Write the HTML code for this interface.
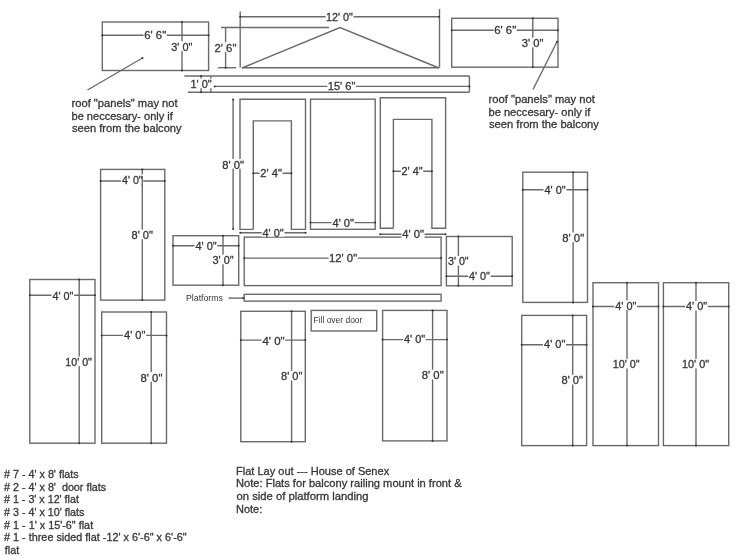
<!DOCTYPE html>
<html><head><meta charset="utf-8"><style>
html,body{margin:0;padding:0;background:#fff;}
body{width:738px;height:556px;overflow:hidden;}
svg{display:block;font-family:"Liberation Sans",sans-serif;will-change:transform;filter:blur(0.35px);}
text{fill:#363636;stroke:#363636;stroke-width:0.3px;white-space:pre;}
</style></head><body>
<svg width="738" height="556" viewBox="0 0 738 556">
<rect x="0" y="0" width="738" height="556" fill="#fff"/>
<rect x="102.3" y="22" width="106.30" height="48.50" stroke="#6a6a6a" stroke-width="1.4" fill="none"/>
<line x1="102.3" y1="35.2" x2="208.6" y2="35.2" stroke="#6a6a6a" stroke-width="1.4" fill="none"/>
<circle cx="102.3" cy="35.2" r="1.0" fill="#333"/>
<circle cx="208.6" cy="35.2" r="1.0" fill="#333"/>
<line x1="182" y1="22" x2="182" y2="70.5" stroke="#6a6a6a" stroke-width="1.4" fill="none"/>
<circle cx="182" cy="22" r="1.0" fill="#333"/>
<circle cx="182" cy="70.5" r="1.0" fill="#333"/>
<line x1="142.5" y1="58" x2="87.5" y2="90" stroke="#6a6a6a" stroke-width="1.4" fill="none"/>
<circle cx="142.5" cy="58" r="1.0" fill="#333"/>
<rect x="451.7" y="18.3" width="106.30" height="48.90" stroke="#6a6a6a" stroke-width="1.4" fill="none"/>
<line x1="451.7" y1="30.3" x2="558" y2="30.3" stroke="#6a6a6a" stroke-width="1.4" fill="none"/>
<circle cx="451.7" cy="30.3" r="1.0" fill="#333"/>
<circle cx="558" cy="30.3" r="1.0" fill="#333"/>
<line x1="532.8" y1="18.3" x2="532.8" y2="67.2" stroke="#6a6a6a" stroke-width="1.4" fill="none"/>
<circle cx="532.8" cy="18.3" r="1.0" fill="#333"/>
<circle cx="532.8" cy="67.2" r="1.0" fill="#333"/>
<line x1="557" y1="41.7" x2="533" y2="89.5" stroke="#6a6a6a" stroke-width="1.4" fill="none"/>
<circle cx="557" cy="41.7" r="1.0" fill="#333"/>
<line x1="240.2" y1="11.4" x2="240.2" y2="67.4" stroke="#6a6a6a" stroke-width="1.4" fill="none"/>
<line x1="439.5" y1="9" x2="439.5" y2="67.7" stroke="#6a6a6a" stroke-width="1.4" fill="none"/>
<line x1="240.2" y1="16.7" x2="439" y2="16.7" stroke="#6a6a6a" stroke-width="1.4" fill="none"/>
<circle cx="240.2" cy="16.7" r="1.0" fill="#333"/>
<circle cx="439" cy="16.7" r="1.0" fill="#333"/>
<line x1="221" y1="27.5" x2="329" y2="27.5" stroke="#6a6a6a" stroke-width="1.4" fill="none"/>
<line x1="225.6" y1="27.5" x2="225.6" y2="67.7" stroke="#6a6a6a" stroke-width="1.4" fill="none"/>
<line x1="218" y1="67.7" x2="236" y2="67.7" stroke="#6a6a6a" stroke-width="1.4" fill="none"/>
<circle cx="225.6" cy="67.7" r="1.0" fill="#333"/>
<polyline points="242,68 340,27.5 439,68" stroke="#6a6a6a" stroke-width="1.4" fill="none"/>
<line x1="242" y1="67.7" x2="439.2" y2="67.7" stroke="#6a6a6a" stroke-width="1.4" fill="none"/>
<line x1="184.3" y1="76" x2="469.4" y2="76" stroke="#6a6a6a" stroke-width="1.4" fill="none"/>
<line x1="188" y1="92.2" x2="469.4" y2="92.2" stroke="#6a6a6a" stroke-width="1.4" fill="none"/>
<line x1="210.9" y1="76" x2="210.9" y2="92.2" stroke="#6a6a6a" stroke-width="1.4" fill="none"/>
<line x1="469.4" y1="76" x2="469.4" y2="92.2" stroke="#6a6a6a" stroke-width="1.4" fill="none"/>
<line x1="201.1" y1="76" x2="201.1" y2="92.2" stroke="#6a6a6a" stroke-width="1.4" fill="none"/>
<circle cx="201.1" cy="76" r="1.0" fill="#333"/>
<circle cx="201.1" cy="92.2" r="1.0" fill="#333"/>
<line x1="214.7" y1="86.4" x2="469.4" y2="86.4" stroke="#6a6a6a" stroke-width="1.4" fill="none"/>
<circle cx="214.7" cy="86.4" r="1.0" fill="#333"/>
<circle cx="469.4" cy="86.4" r="1.0" fill="#333"/>
<line x1="233.1" y1="99.5" x2="233.1" y2="229.1" stroke="#6a6a6a" stroke-width="1.4" fill="none"/>
<circle cx="233.1" cy="99.5" r="1.0" fill="#333"/>
<circle cx="233.1" cy="229.1" r="1.0" fill="#333"/>
<polyline points="253.3,229.4 240,229.4 240,99.2 305.5,99.2 305.5,229.4 291.4,229.4 291.4,120.9 253.3,120.9 253.3,229.4" stroke="#6a6a6a" stroke-width="1.4" fill="none"/>
<line x1="253.3" y1="173.3" x2="291.4" y2="173.3" stroke="#6a6a6a" stroke-width="1.4" fill="none"/>
<circle cx="253.3" cy="173.3" r="1.0" fill="#333"/>
<circle cx="291.4" cy="173.3" r="1.0" fill="#333"/>
<line x1="240.3" y1="232.8" x2="305.6" y2="232.8" stroke="#6a6a6a" stroke-width="1.4" fill="none"/>
<circle cx="240.3" cy="232.8" r="1.0" fill="#333"/>
<circle cx="305.6" cy="232.8" r="1.0" fill="#333"/>
<rect x="310.5" y="99.2" width="64.70" height="130.10" stroke="#6a6a6a" stroke-width="1.4" fill="none"/>
<line x1="310.5" y1="222.6" x2="375.2" y2="222.6" stroke="#6a6a6a" stroke-width="1.4" fill="none"/>
<circle cx="310.5" cy="222.6" r="1.0" fill="#333"/>
<circle cx="375.2" cy="222.6" r="1.0" fill="#333"/>
<polyline points="393.4,228.2 380.3,228.2 380.3,97.7 445.6,97.7 445.6,228.2 431.9,228.2 431.9,119.4 393.4,119.4 393.4,228.2" stroke="#6a6a6a" stroke-width="1.4" fill="none"/>
<line x1="393.4" y1="171.3" x2="431.9" y2="171.3" stroke="#6a6a6a" stroke-width="1.4" fill="none"/>
<circle cx="393.4" cy="171.3" r="1.0" fill="#333"/>
<circle cx="431.9" cy="171.3" r="1.0" fill="#333"/>
<line x1="380.2" y1="234.2" x2="445.5" y2="234.2" stroke="#6a6a6a" stroke-width="1.4" fill="none"/>
<circle cx="380.2" cy="234.2" r="1.0" fill="#333"/>
<circle cx="445.5" cy="234.2" r="1.0" fill="#333"/>
<rect x="173" y="235.7" width="65.70" height="49.50" stroke="#6a6a6a" stroke-width="1.4" fill="none"/>
<line x1="173" y1="245.7" x2="238.7" y2="245.7" stroke="#6a6a6a" stroke-width="1.4" fill="none"/>
<circle cx="173" cy="245.7" r="1.0" fill="#333"/>
<circle cx="238.7" cy="245.7" r="1.0" fill="#333"/>
<line x1="223" y1="235.7" x2="223" y2="285.2" stroke="#6a6a6a" stroke-width="1.4" fill="none"/>
<circle cx="223" cy="235.7" r="1.0" fill="#333"/>
<circle cx="223" cy="285.2" r="1.0" fill="#333"/>
<rect x="244.2" y="237.1" width="196.90" height="48.50" stroke="#6a6a6a" stroke-width="1.4" fill="none"/>
<line x1="244.2" y1="258.1" x2="441.1" y2="258.1" stroke="#6a6a6a" stroke-width="1.4" fill="none"/>
<circle cx="244.2" cy="258.1" r="1.0" fill="#333"/>
<circle cx="441.1" cy="258.1" r="1.0" fill="#333"/>
<rect x="446.4" y="236.5" width="65.80" height="49.30" stroke="#6a6a6a" stroke-width="1.4" fill="none"/>
<line x1="458.4" y1="236.5" x2="458.4" y2="285.8" stroke="#6a6a6a" stroke-width="1.4" fill="none"/>
<circle cx="458.4" cy="236.5" r="1.0" fill="#333"/>
<circle cx="458.4" cy="285.8" r="1.0" fill="#333"/>
<line x1="446.4" y1="276.3" x2="512.2" y2="276.3" stroke="#6a6a6a" stroke-width="1.4" fill="none"/>
<circle cx="446.4" cy="276.3" r="1.0" fill="#333"/>
<circle cx="512.2" cy="276.3" r="1.0" fill="#333"/>
<rect x="244.2" y="294.3" width="196.90" height="6.80" stroke="#6a6a6a" stroke-width="1.4" fill="none"/>
<line x1="228.5" y1="298.1" x2="243.3" y2="298.1" stroke="#6a6a6a" stroke-width="1.4" fill="none"/>
<circle cx="243.3" cy="298.1" r="1.0" fill="#333"/>
<rect x="311.2" y="310.4" width="65.50" height="20.60" stroke="#6a6a6a" stroke-width="1.4" fill="none"/>
<rect x="240.8" y="311.3" width="64.50" height="130.40" stroke="#6a6a6a" stroke-width="1.4" fill="none"/>
<line x1="291.6" y1="311.3" x2="291.6" y2="441.7" stroke="#6a6a6a" stroke-width="1.4" fill="none"/>
<circle cx="291.6" cy="311.3" r="1.0" fill="#333"/>
<circle cx="291.6" cy="441.7" r="1.0" fill="#333"/>
<line x1="240.8" y1="340.1" x2="305.3" y2="340.1" stroke="#6a6a6a" stroke-width="1.4" fill="none"/>
<circle cx="240.8" cy="340.1" r="1.0" fill="#333"/>
<circle cx="305.3" cy="340.1" r="1.0" fill="#333"/>
<rect x="382.6" y="310.4" width="64.40" height="130.50" stroke="#6a6a6a" stroke-width="1.4" fill="none"/>
<line x1="432.6" y1="310.4" x2="432.6" y2="440.9" stroke="#6a6a6a" stroke-width="1.4" fill="none"/>
<circle cx="432.6" cy="310.4" r="1.0" fill="#333"/>
<circle cx="432.6" cy="440.9" r="1.0" fill="#333"/>
<line x1="382.6" y1="339.6" x2="447" y2="339.6" stroke="#6a6a6a" stroke-width="1.4" fill="none"/>
<circle cx="382.6" cy="339.6" r="1.0" fill="#333"/>
<circle cx="447" cy="339.6" r="1.0" fill="#333"/>
<rect x="100.6" y="169.4" width="64.20" height="130.70" stroke="#6a6a6a" stroke-width="1.4" fill="none"/>
<line x1="142.3" y1="169.4" x2="142.3" y2="300.1" stroke="#6a6a6a" stroke-width="1.4" fill="none"/>
<circle cx="142.3" cy="169.4" r="1.0" fill="#333"/>
<circle cx="142.3" cy="300.1" r="1.0" fill="#333"/>
<line x1="100.6" y1="181" x2="164.8" y2="181" stroke="#6a6a6a" stroke-width="1.4" fill="none"/>
<circle cx="100.6" cy="181" r="1.0" fill="#333"/>
<circle cx="164.8" cy="181" r="1.0" fill="#333"/>
<rect x="29.8" y="279.5" width="65.20" height="163.70" stroke="#6a6a6a" stroke-width="1.4" fill="none"/>
<line x1="79.2" y1="279.5" x2="79.2" y2="443.2" stroke="#6a6a6a" stroke-width="1.4" fill="none"/>
<circle cx="79.2" cy="279.5" r="1.0" fill="#333"/>
<circle cx="79.2" cy="443.2" r="1.0" fill="#333"/>
<line x1="29.8" y1="295.3" x2="95" y2="295.3" stroke="#6a6a6a" stroke-width="1.4" fill="none"/>
<circle cx="29.8" cy="295.3" r="1.0" fill="#333"/>
<circle cx="95" cy="295.3" r="1.0" fill="#333"/>
<rect x="101.7" y="312" width="64.80" height="131.20" stroke="#6a6a6a" stroke-width="1.4" fill="none"/>
<line x1="151.2" y1="312" x2="151.2" y2="443.2" stroke="#6a6a6a" stroke-width="1.4" fill="none"/>
<circle cx="151.2" cy="312" r="1.0" fill="#333"/>
<circle cx="151.2" cy="443.2" r="1.0" fill="#333"/>
<line x1="101.7" y1="335.4" x2="166.5" y2="335.4" stroke="#6a6a6a" stroke-width="1.4" fill="none"/>
<circle cx="101.7" cy="335.4" r="1.0" fill="#333"/>
<circle cx="166.5" cy="335.4" r="1.0" fill="#333"/>
<rect x="522.8" y="172.2" width="64.70" height="130.20" stroke="#6a6a6a" stroke-width="1.4" fill="none"/>
<line x1="573.1" y1="172.2" x2="573.1" y2="302.4" stroke="#6a6a6a" stroke-width="1.4" fill="none"/>
<circle cx="573.1" cy="172.2" r="1.0" fill="#333"/>
<circle cx="573.1" cy="302.4" r="1.0" fill="#333"/>
<line x1="522.8" y1="189.7" x2="587.5" y2="189.7" stroke="#6a6a6a" stroke-width="1.4" fill="none"/>
<circle cx="522.8" cy="189.7" r="1.0" fill="#333"/>
<circle cx="587.5" cy="189.7" r="1.0" fill="#333"/>
<rect x="521.7" y="315.4" width="64.90" height="130.20" stroke="#6a6a6a" stroke-width="1.4" fill="none"/>
<line x1="572.7" y1="315.4" x2="572.7" y2="445.6" stroke="#6a6a6a" stroke-width="1.4" fill="none"/>
<circle cx="572.7" cy="315.4" r="1.0" fill="#333"/>
<circle cx="572.7" cy="445.6" r="1.0" fill="#333"/>
<line x1="521.7" y1="344.8" x2="586.6" y2="344.8" stroke="#6a6a6a" stroke-width="1.4" fill="none"/>
<circle cx="521.7" cy="344.8" r="1.0" fill="#333"/>
<circle cx="586.6" cy="344.8" r="1.0" fill="#333"/>
<rect x="593" y="282.7" width="65.50" height="162.90" stroke="#6a6a6a" stroke-width="1.4" fill="none"/>
<line x1="627" y1="282.7" x2="627" y2="445.6" stroke="#6a6a6a" stroke-width="1.4" fill="none"/>
<circle cx="627" cy="282.7" r="1.0" fill="#333"/>
<circle cx="627" cy="445.6" r="1.0" fill="#333"/>
<line x1="593" y1="306.5" x2="658.5" y2="306.5" stroke="#6a6a6a" stroke-width="1.4" fill="none"/>
<circle cx="593" cy="306.5" r="1.0" fill="#333"/>
<circle cx="658.5" cy="306.5" r="1.0" fill="#333"/>
<rect x="663.4" y="282.7" width="65.30" height="162.90" stroke="#6a6a6a" stroke-width="1.4" fill="none"/>
<line x1="696" y1="282.7" x2="696" y2="445.6" stroke="#6a6a6a" stroke-width="1.4" fill="none"/>
<circle cx="696" cy="282.7" r="1.0" fill="#333"/>
<circle cx="696" cy="445.6" r="1.0" fill="#333"/>
<line x1="663.4" y1="306.5" x2="728.7" y2="306.5" stroke="#6a6a6a" stroke-width="1.4" fill="none"/>
<circle cx="663.4" cy="306.5" r="1.0" fill="#333"/>
<circle cx="728.7" cy="306.5" r="1.0" fill="#333"/>
<rect x="143.60" y="29.60" width="23.10" height="9.6" fill="#fff"/>
<rect x="170.60" y="41.30" width="22.40" height="9.6" fill="#fff"/>
<rect x="493.60" y="24.50" width="23.10" height="9.6" fill="#fff"/>
<rect x="520.90" y="37.70" width="23.10" height="9.6" fill="#fff"/>
<rect x="325.60" y="11.00" width="28.00" height="9.6" fill="#fff"/>
<rect x="214.00" y="42.30" width="23.00" height="9.6" fill="#fff"/>
<rect x="190.10" y="78.60" width="22.10" height="9.6" fill="#fff"/>
<rect x="327.50" y="80.70" width="28.50" height="9.6" fill="#fff"/>
<rect x="221.70" y="159.00" width="23.00" height="9.6" fill="#fff"/>
<rect x="259.60" y="167.80" width="23.00" height="9.6" fill="#fff"/>
<rect x="261.70" y="227.00" width="22.70" height="9.6" fill="#fff"/>
<rect x="331.50" y="217.30" width="23.00" height="9.6" fill="#fff"/>
<rect x="400.80" y="165.70" width="22.40" height="9.6" fill="#fff"/>
<rect x="401.40" y="228.70" width="23.20" height="9.6" fill="#fff"/>
<rect x="194.50" y="240.20" width="22.80" height="9.6" fill="#fff"/>
<rect x="211.80" y="254.70" width="22.60" height="9.6" fill="#fff"/>
<rect x="328.60" y="252.90" width="29.10" height="9.6" fill="#fff"/>
<rect x="447.30" y="255.90" width="21.90" height="9.6" fill="#fff"/>
<rect x="468.20" y="270.50" width="22.50" height="9.6" fill="#fff"/>
<rect x="261.50" y="335.10" width="23.70" height="9.6" fill="#fff"/>
<rect x="280.30" y="370.90" width="22.70" height="9.6" fill="#fff"/>
<rect x="403.20" y="333.90" width="22.70" height="9.6" fill="#fff"/>
<rect x="421.20" y="369.80" width="23.20" height="9.6" fill="#fff"/>
<rect x="121.10" y="174.40" width="22.20" height="9.6" fill="#fff"/>
<rect x="130.90" y="229.60" width="22.70" height="9.6" fill="#fff"/>
<rect x="51.50" y="290.80" width="22.60" height="9.6" fill="#fff"/>
<rect x="65.00" y="356.50" width="27.50" height="9.6" fill="#fff"/>
<rect x="123.00" y="329.80" width="23.10" height="9.6" fill="#fff"/>
<rect x="139.80" y="372.10" width="23.20" height="9.6" fill="#fff"/>
<rect x="543.50" y="184.00" width="22.90" height="9.6" fill="#fff"/>
<rect x="561.50" y="232.50" width="23.20" height="9.6" fill="#fff"/>
<rect x="543.00" y="338.40" width="23.00" height="9.6" fill="#fff"/>
<rect x="560.90" y="374.90" width="22.70" height="9.6" fill="#fff"/>
<rect x="614.30" y="300.40" width="22.70" height="9.6" fill="#fff"/>
<rect x="612.40" y="358.90" width="28.00" height="9.6" fill="#fff"/>
<rect x="685.20" y="300.90" width="22.70" height="9.6" fill="#fff"/>
<rect x="681.60" y="358.90" width="28.30" height="9.6" fill="#fff"/>
<text x="144.250" y="39.10" font-size="11" textLength="21.898" lengthAdjust="spacingAndGlyphs">6' 6&quot;</text>
<text x="171.250" y="50.80" font-size="11" textLength="21.145" lengthAdjust="spacingAndGlyphs">3' 0&quot;</text>
<text x="494.250" y="34.00" font-size="11" textLength="21.898" lengthAdjust="spacingAndGlyphs">6' 6&quot;</text>
<text x="521.750" y="47.20" font-size="11" textLength="21.640" lengthAdjust="spacingAndGlyphs">3' 0&quot;</text>
<text x="326.000" y="20.50" font-size="11" textLength="26.900" lengthAdjust="spacingAndGlyphs">12' 0&quot;</text>
<text x="214.500" y="51.80" font-size="11" textLength="21.900" lengthAdjust="spacingAndGlyphs">2' 6&quot;</text>
<text x="190.500" y="88.10" font-size="11" textLength="21.159" lengthAdjust="spacingAndGlyphs">1' 0&quot;</text>
<text x="327.750" y="90.20" font-size="11" textLength="27.661" lengthAdjust="spacingAndGlyphs">15' 6&quot;</text>
<text x="222.250" y="168.50" font-size="11" textLength="21.642" lengthAdjust="spacingAndGlyphs">8' 0&quot;</text>
<text x="260.250" y="177.30" font-size="11" textLength="21.642" lengthAdjust="spacingAndGlyphs">2' 4&quot;</text>
<text x="262.500" y="236.50" font-size="11" textLength="21.144" lengthAdjust="spacingAndGlyphs">4' 0&quot;</text>
<text x="332.500" y="226.80" font-size="11" textLength="21.391" lengthAdjust="spacingAndGlyphs">4' 0&quot;</text>
<text x="401.500" y="175.20" font-size="11" textLength="21.145" lengthAdjust="spacingAndGlyphs">2' 4&quot;</text>
<text x="402.250" y="238.20" font-size="11" textLength="21.644" lengthAdjust="spacingAndGlyphs">4' 0&quot;</text>
<text x="195.500" y="249.70" font-size="11" textLength="21.146" lengthAdjust="spacingAndGlyphs">4' 0&quot;</text>
<text x="212.500" y="264.20" font-size="11" textLength="21.146" lengthAdjust="spacingAndGlyphs">3' 0&quot;</text>
<text x="329.000" y="262.40" font-size="11" textLength="28.156" lengthAdjust="spacingAndGlyphs">12' 0&quot;</text>
<text x="448.000" y="265.40" font-size="11" textLength="20.648" lengthAdjust="spacingAndGlyphs">3' 0&quot;</text>
<text x="469.000" y="280.00" font-size="11" textLength="20.890" lengthAdjust="spacingAndGlyphs">4' 0&quot;</text>
<text x="186.000" y="301.30" font-size="9" textLength="36.915" lengthAdjust="spacingAndGlyphs" style="stroke-width:0">Platforms</text>
<text x="313.500" y="323.40" font-size="9" textLength="48.898" lengthAdjust="spacingAndGlyphs" style="stroke-width:0">Fill over door</text>
<text x="262.500" y="344.60" font-size="11" textLength="22.144" lengthAdjust="spacingAndGlyphs">4' 0&quot;</text>
<text x="281.000" y="380.40" font-size="11" textLength="21.393" lengthAdjust="spacingAndGlyphs">8' 0&quot;</text>
<text x="404.000" y="343.40" font-size="11" textLength="21.144" lengthAdjust="spacingAndGlyphs">4' 0&quot;</text>
<text x="421.750" y="379.30" font-size="11" textLength="21.896" lengthAdjust="spacingAndGlyphs">8' 0&quot;</text>
<text x="122.000" y="183.90" font-size="11" textLength="20.641" lengthAdjust="spacingAndGlyphs">4' 0&quot;</text>
<text x="131.500" y="239.10" font-size="11" textLength="21.393" lengthAdjust="spacingAndGlyphs">8' 0&quot;</text>
<text x="52.500" y="300.30" font-size="11" textLength="20.894" lengthAdjust="spacingAndGlyphs">4' 0&quot;</text>
<text x="65.250" y="366.00" font-size="11" textLength="26.661" lengthAdjust="spacingAndGlyphs">10' 0&quot;</text>
<text x="124.000" y="339.30" font-size="11" textLength="21.394" lengthAdjust="spacingAndGlyphs">4' 0&quot;</text>
<text x="140.500" y="381.60" font-size="11" textLength="21.893" lengthAdjust="spacingAndGlyphs">8' 0&quot;</text>
<text x="544.500" y="193.50" font-size="11" textLength="21.142" lengthAdjust="spacingAndGlyphs">4' 0&quot;</text>
<text x="562.250" y="242.00" font-size="11" textLength="21.896" lengthAdjust="spacingAndGlyphs">8' 0&quot;</text>
<text x="544.000" y="347.90" font-size="11" textLength="21.391" lengthAdjust="spacingAndGlyphs">4' 0&quot;</text>
<text x="561.500" y="384.40" font-size="11" textLength="21.393" lengthAdjust="spacingAndGlyphs">8' 0&quot;</text>
<text x="615.250" y="309.90" font-size="11" textLength="21.138" lengthAdjust="spacingAndGlyphs">4' 0&quot;</text>
<text x="612.750" y="368.40" font-size="11" textLength="26.900" lengthAdjust="spacingAndGlyphs">10' 0&quot;</text>
<text x="686.000" y="310.40" font-size="11" textLength="21.144" lengthAdjust="spacingAndGlyphs">4' 0&quot;</text>
<text x="682.000" y="368.40" font-size="11" textLength="27.152" lengthAdjust="spacingAndGlyphs">10' 0&quot;</text>
<text x="71.500" y="106.80" font-size="11" textLength="106.149" lengthAdjust="spacingAndGlyphs">roof &quot;panels&quot; may not</text>
<text x="71.500" y="119.80" font-size="11" textLength="101.398" lengthAdjust="spacingAndGlyphs">be neccesary- only if</text>
<text x="72.000" y="132.00" font-size="11" textLength="109.650" lengthAdjust="spacingAndGlyphs">seen from the balcony</text>
<text x="488.500" y="102.80" font-size="11" textLength="106.399" lengthAdjust="spacingAndGlyphs">roof &quot;panels&quot; may not</text>
<text x="488.500" y="115.80" font-size="11" textLength="101.899" lengthAdjust="spacingAndGlyphs">be neccesary- only if</text>
<text x="489.000" y="128.00" font-size="11" textLength="109.900" lengthAdjust="spacingAndGlyphs">seen from the balcony</text>
<text x="4.000" y="478.30" font-size="11" textLength="74.649" lengthAdjust="spacingAndGlyphs"># 7 - 4' x 8' flats</text>
<text x="4.000" y="490.85" font-size="11" textLength="102.149" lengthAdjust="spacingAndGlyphs"># 2 - 4' x 8'  door flats</text>
<text x="4.000" y="503.40" font-size="11" textLength="74.901" lengthAdjust="spacingAndGlyphs"># 1 - 3' x 12' flat</text>
<text x="4.000" y="515.95" font-size="11" textLength="80.397" lengthAdjust="spacingAndGlyphs"># 3 - 4' x 10' flats</text>
<text x="4.000" y="528.50" font-size="11" textLength="89.152" lengthAdjust="spacingAndGlyphs"># 1 - 1' x 15'-6&quot; flat</text>
<text x="4.000" y="541.05" font-size="11" textLength="182.649" lengthAdjust="spacingAndGlyphs"># 1 - three sided flat -12' x 6'-6&quot; x 6'-6&quot;</text>
<text x="4.750" y="553.60" font-size="11" textLength="14.402" lengthAdjust="spacingAndGlyphs">flat</text>
<text x="236.000" y="474.80" font-size="11" textLength="153.150" lengthAdjust="spacingAndGlyphs">Flat Lay out --- House of Senex</text>
<text x="236.000" y="487.40" font-size="11" textLength="225.650" lengthAdjust="spacingAndGlyphs">Note: Flats for balcony railing mount in front &amp;</text>
<text x="236.500" y="500.00" font-size="11" textLength="131.901" lengthAdjust="spacingAndGlyphs">on side of platform landing</text>
<text x="236.000" y="512.60" font-size="11" textLength="26.210" lengthAdjust="spacingAndGlyphs">Note:</text>
<line x1="142.3" y1="176" x2="142.3" y2="186" stroke="#6a6a6a" stroke-width="1.4" fill="none"/>
</svg>
</body></html>
